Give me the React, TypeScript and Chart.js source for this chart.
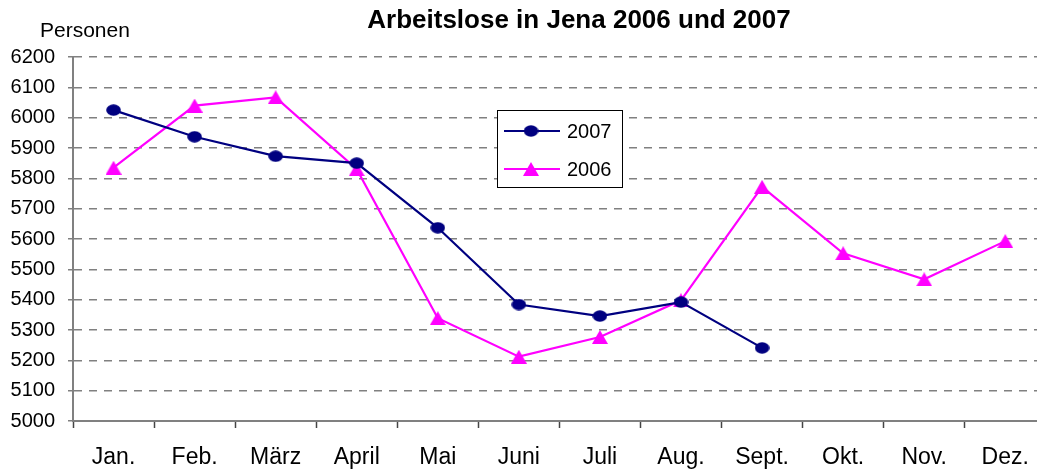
import React, { useEffect, useRef } from "react";
import { Chart, registerables } from "chart.js";

Chart.register(...registerables);

const months = ["Jan.", "Feb.", "März", "April", "Mai", "Juni", "Juli", "Aug.", "Sept.", "Okt.", "Nov.", "Dez."];
const values2007: (number | null)[] = [6025, 5937, 5873, 5850, 5637, 5384, 5346, 5392, 5241, null, null, null];
const values2006: (number | null)[] = [5835, 6040, 6067, 5830, 5339, 5212, 5277, 5398, 5772, 5553, 5467, 5593];
const seriesNames = ["2007", "2006"];
const yMin = 5000;
const yMax = 6200;
const yStep = 100;
const chartTitle = "Arbeitslose in Jena 2006 und 2007";
const yAxisTitle = "Personen";

const NAVY = "#000080";
const MAGENTA = "#FF00FF";

function makeEllipse(color: string) {
  const c = document.createElement("canvas");
  c.width = 15;
  c.height = 12;
  const ctx = c.getContext("2d")!;
  ctx.fillStyle = color;
  ctx.beginPath();
  ctx.ellipse(7.5, 6, 7.3, 5.8, 0, 0, Math.PI * 2);
  ctx.fill();
  return c;
}

function makeTriangle(color: string) {
  const c = document.createElement("canvas");
  c.width = 16;
  c.height = 14;
  const ctx = c.getContext("2d")!;
  ctx.fillStyle = color;
  ctx.beginPath();
  ctx.moveTo(8, 0);
  ctx.lineTo(16, 14);
  ctx.lineTo(0, 14);
  ctx.closePath();
  ctx.fill();
  return c;
}

export default function App() {
  const ref = useRef<HTMLCanvasElement | null>(null);

  useEffect(() => {
    if (!ref.current) return;
    const ellipse = makeEllipse(NAVY);
    const triangle = makeTriangle(MAGENTA);

    const decor = {
      id: "decor",
      afterDraw(chart: any) {
        const ctx = chart.ctx as CanvasRenderingContext2D;
        const area = chart.chartArea;
        ctx.save();
        // title
        ctx.fillStyle = "#000";
        ctx.font = "bold 26px 'Liberation Sans', Arial, sans-serif";
        ctx.textAlign = "center";
        ctx.textBaseline = "alphabetic";
        ctx.fillText(chartTitle, area.left + 506, 28);
        // y axis title
        ctx.font = "21px 'Liberation Sans', Arial, sans-serif";
        ctx.textAlign = "left";
        ctx.fillText(yAxisTitle, 40, 37);
        // legend
        const lx = 497, ly = 110, lw = 125, lh = 77;
        ctx.fillStyle = "#fff";
        ctx.fillRect(lx, ly, lw, lh);
        ctx.strokeStyle = "#000";
        ctx.lineWidth = 1;
        ctx.strokeRect(lx + 0.5, ly + 0.5, lw, lh);
        const rows = [131, 169];
        chart.data.datasets.forEach((ds: any, i: number) => {
          const y = rows[i];
          ctx.strokeStyle = ds.borderColor;
          ctx.lineWidth = 2;
          ctx.beginPath();
          ctx.moveTo(504, y);
          ctx.lineTo(560, y);
          ctx.stroke();
          const img = ds.pointStyle as HTMLCanvasElement;
          ctx.drawImage(img, 531 - img.width / 2, y - img.height / 2);
          ctx.fillStyle = "#000";
          ctx.font = "20px 'Liberation Sans', Arial, sans-serif";
          ctx.textBaseline = "middle";
          ctx.textAlign = "left";
          ctx.fillText(ds.label, 567, y + 1);
        });
        ctx.restore();
      },
    };

    const chart = new Chart(ref.current, {
      type: "line",
      data: {
        labels: months,
        datasets: [
          {
            label: seriesNames[0],
            data: values2007,
            borderColor: NAVY,
            backgroundColor: NAVY,
            borderWidth: 2.2,
            pointStyle: ellipse as any,
            pointRadius: 6,
            spanGaps: false,
          },
          {
            label: seriesNames[1],
            data: values2006,
            borderColor: MAGENTA,
            backgroundColor: MAGENTA,
            borderWidth: 2.2,
            pointStyle: triangle as any,
            pointRadius: 7,
          },
        ],
      },
      options: {
        responsive: false,
        animation: false,
        events: [],
        layout: { padding: { top: 57, right: 4, left: 0, bottom: 0 } },
        plugins: {
          legend: { display: false },
          title: { display: false },
          tooltip: { enabled: false },
        },
        scales: {
          x: {
            type: "category",
            offset: true,
            afterFit: (s: any) => {
              s.height = 49;
            },
            grid: {
              offset: true,
              drawOnChartArea: false,
              drawTicks: true,
              tickLength: 7,
              tickColor: "#444",
              tickWidth: 1.5,
            },
            border: { display: true, color: "#808080", width: 2 },
            ticks: {
              color: "#000",
              font: { family: "'Liberation Sans', Arial, sans-serif", size: 23 },
              padding: 16,
              maxRotation: 0,
              autoSkip: false,
            },
          },
          y: {
            min: yMin,
            max: yMax,
            afterFit: (s: any) => {
              s.width = 73;
            },
            grid: {
              color: (c: any) => (c.tick && c.tick.value === yMin ? "rgba(0,0,0,0)" : "#808080"),
              lineWidth: 1.5,
              drawTicks: true,
              tickLength: 5,
              tickColor: "#808080",
            },
            border: { display: true, color: "#808080", width: 2, dash: [8, 7] },
            ticks: {
              stepSize: yStep,
              color: "#000",
              font: { family: "'Liberation Sans', Arial, sans-serif", size: 20 },
              padding: 13,
              callback: (v: any) => String(v),
            },
          },
        },
      },
      plugins: [decor],
    });
    return () => chart.destroy();
  }, []);

  return (
    <div style={{ position: "fixed", left: 0, top: 0, width: 1037, height: 470, overflow: "hidden", background: "#fff" }}>
      <canvas ref={ref} width={1055} height={470} style={{ display: "block" }} />
    </div>
  );
}
